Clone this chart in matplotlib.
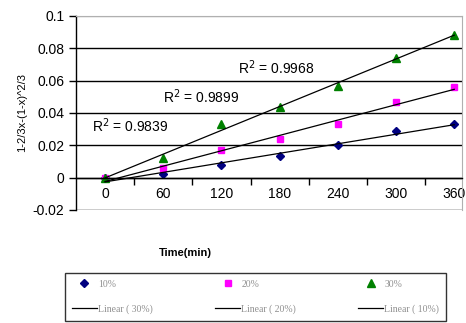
import numpy as np
import matplotlib
matplotlib.use('Agg')
import matplotlib.pyplot as plt

plt.rcParams['font.family'] = ['Liberation Sans Narrow', 'Liberation Sans', 'DejaVu Sans']

# data
time_min = [0, 60, 120, 180, 240, 300, 360]
y10 = [0.0, 0.002, 0.008, 0.0135, 0.020, 0.029, 0.033]
y20 = [0.0, 0.006, 0.017, 0.024, 0.033, 0.047, 0.056]
y30 = [0.0, 0.012, 0.033, 0.044, 0.057, 0.074, 0.088]
r2_labels = ['R$^2$ = 0.9839', 'R$^2$ = 0.9899', 'R$^2$ = 0.9968']
r2_pos = [(-14, 0.032), (60, 0.050), (137, 0.068)]

fig = plt.figure(figsize=(4.66, 3.23), dpi=100)
ax = fig.add_axes([76/466, 1-210/323, (462-76)/466, (210-16)/323])

x = np.array(time_min)
h10, = ax.plot(x, y10, 'D', color='#000080', ms=4.5, ls='none', label='10%')
h20, = ax.plot(x, y20, 's', color='#ff00ff', ms=5, ls='none', label='20%')
h30, = ax.plot(x, y30, '^', color='#008000', ms=5.5, ls='none', label='30%')

lines = {}
for name, yy in [('30%', y30), ('20%', y20), ('10%', y10)]:
    k, b = np.polyfit(x, yy, 1)
    lines[name], = ax.plot(x, k * x + b, color='black', lw=0.9,
                           label=f'Linear ( {name})')

for txt, (tx, ty) in zip(r2_labels, r2_pos):
    ax.text(tx, ty, txt, fontsize=10, ha='left', va='center')

ax.set_xlim(-30, 368)
ax.set_ylim(-0.02, 0.1)
ax.set_yticks(np.arange(-0.02, 0.101, 0.02))
ax.set_yticklabels(['-0.02', '0', '0.02', '0.04', '0.06', '0.08', '0.1'])
ax.yaxis.grid(True, color='black', lw=1)
ax.get_ygridlines()[-1].set_color('#b0b0b0')
ax.set_axisbelow(True)

# category axis: labels centred, tick marks between categories
ax.set_xticks(np.arange(30, 361, 60))
ax.set_xticklabels([])
ax.set_xticks(time_min, minor=True)
ax.set_xticklabels([str(t) for t in time_min], minor=True)
ax.tick_params(axis='x', which='major', direction='out', length=5, width=1)
ax.tick_params(axis='x', which='minor', length=0, pad=7, labelsize=10)
ax.tick_params(axis='y', direction='out', length=5, width=1, labelsize=10)

ax.spines['bottom'].set_position(('data', 0))
ax.spines['bottom'].set_linewidth(1)
ax.spines['left'].set_linewidth(1)
for s in ['top', 'right']:
    ax.spines[s].set_color('#b0b0b0')

ax.set_ylabel('1-2/3x-(1-x)^2/3', fontsize=8, labelpad=4)
fig.text(185/466, 1-253/323, 'Time(min)', fontsize=8, fontweight='bold',
         ha='center', va='center')

handles = [h10, lines['30%'], h20, lines['20%'], h30, lines['10%']]
leg = fig.legend(handles=handles, loc='upper left', ncol=3, mode='expand',
                 bbox_to_anchor=(65/466, 1-273/323, (446-65)/466, 0.0),
                 frameon=True, fancybox=False, edgecolor='black',
                 prop={'family': 'Liberation Serif', 'size': 7},
                 labelcolor='#909090', handlelength=2.6, handletextpad=0.1,
                 borderaxespad=0, borderpad=0.7, labelspacing=1.6)
leg.get_frame().set_linewidth(1)

fig.savefig('out.png', dpi=100)
